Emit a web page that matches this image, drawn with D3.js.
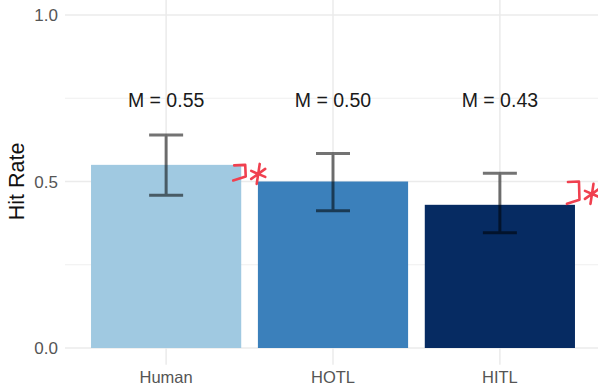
<!DOCTYPE html>
<html>
<head>
<meta charset="utf-8">
<script src="https://cdn.jsdelivr.net/npm/d3@7"></script>
<style>
  html, body { margin: 0; padding: 0; background: #fff; }
  svg { display: block; font-family: "Liberation Sans", Arial, sans-serif; }
</style>
</head>
<body>
<svg id="chart" width="598" height="388"></svg>
<script>
// Mean hit rate per condition with error bar bounds
const conditions = ["Human", "HOTL", "HITL"];
const hitRate = [0.55, 0.50, 0.43];
const errLow = [0.459, 0.412, 0.346];
const errHigh = [0.640, 0.584, 0.525];
const barColors = ["#a0c9e1", "#3b80bb", "#062b62"];
const yTicks = [0, 0.5, 1.0];
const yMinorTicks = [0.25, 0.75];
// Hand-marked differences: bracket beside a bar, spanning two levels
const marks = [
  { cond: "Human", top: 0.55, bottom: 0.50 },
  { cond: "HITL", top: 0.50, bottom: 0.43 }
];

const W = 598, H = 388;
const svg = d3.select("#chart");

const y = d3.scaleLinear().domain([0, 1]).range([348, 15]);
const x = d3.scaleBand().domain(conditions).range([66, 600])
  .paddingInner(0.1).paddingOuter(0.15);

const panelTop = y(1.05), panelBottom = y(-0.05), panelLeft = 65;

// grid
const grid = svg.append("g");
grid.selectAll("line.minor").data(yMinorTicks).join("line")
  .attr("x1", panelLeft).attr("x2", W)
  .attr("y1", d => y(d)).attr("y2", d => y(d))
  .attr("stroke", "#efefef").attr("stroke-width", 1.2);
grid.selectAll("line.major").data(yTicks).join("line")
  .attr("x1", panelLeft).attr("x2", W)
  .attr("y1", d => y(d)).attr("y2", d => y(d))
  .attr("stroke", "#ebebeb").attr("stroke-width", 1.5);
grid.selectAll("line.vert").data(conditions).join("line")
  .attr("x1", d => x(d) + x.bandwidth() / 2).attr("x2", d => x(d) + x.bandwidth() / 2)
  .attr("y1", panelTop).attr("y2", panelBottom)
  .attr("stroke", "#ebebeb").attr("stroke-width", 1.5);

// bars
svg.append("g").selectAll("rect").data(conditions).join("rect")
  .attr("x", d => x(d))
  .attr("width", x.bandwidth())
  .attr("y", (d, i) => y(hitRate[i]))
  .attr("height", (d, i) => y(0) - y(hitRate[i]))
  .attr("fill", (d, i) => barColors[i]);

// error bars
const capHalf = 17;
const eb = svg.append("g").attr("stroke", "rgba(0,0,0,0.55)").attr("stroke-width", 3).attr("fill", "none");
conditions.forEach((c, i) => {
  const cx = x(c) + x.bandwidth() / 2;
  eb.append("path").attr("d",
    `M${cx - capHalf},${y(errHigh[i])}H${cx + capHalf}` +
    `M${cx},${y(errHigh[i])}V${y(errLow[i])}` +
    `M${cx - capHalf},${y(errLow[i])}H${cx + capHalf}`);
});

// mean labels
svg.append("g").selectAll("text").data(conditions).join("text")
  .attr("x", d => x(d) + x.bandwidth() / 2)
  .attr("y", 107)
  .attr("text-anchor", "middle")
  .attr("font-size", 19.5)
  .attr("fill", "#1a1a1a")
  .text((d, i) => "M = " + hitRate[i].toFixed(2));

// y axis labels
svg.append("g").selectAll("text").data(yTicks).join("text")
  .attr("x", 58)
  .attr("y", d => y(d))
  .attr("dy", "0.36em")
  .attr("text-anchor", "end")
  .attr("font-size", 17)
  .attr("fill", "#555")
  .text(d => d3.format(".1f")(d));

// x axis labels
svg.append("g").selectAll("text").data(conditions).join("text")
  .attr("x", d => x(d) + x.bandwidth() / 2)
  .attr("y", 383)
  .attr("text-anchor", "middle")
  .attr("font-size", 16.5)
  .attr("fill", "#555")
  .text(d => d);

// y title
svg.append("text")
  .attr("transform", `translate(24,${y(0.5)}) rotate(-90)`)
  .attr("text-anchor", "middle")
  .attr("font-size", 21.5)
  .attr("fill", "#111")
  .text("Hit Rate");

// red bracket + asterisk marks
const red = "#f0404f";
const mk = svg.append("g").attr("stroke", red).attr("stroke-width", 2.6)
  .attr("fill", "none").attr("stroke-linecap", "round").attr("stroke-linejoin", "round");
marks.forEach(m => {
  const right = x(m.cond) + x.bandwidth();
  const y1 = y(m.top) + 0.5, y2 = y(m.bottom) - 1;
  const xl = right - 7, xr = right + 4;
  mk.append("path").attr("d",
    `M${xl},${y1}L${xr},${y1 - 0.5}L${xr + 0.5},${y2 - 4}L${xl - 1},${y2}`);
  const ax = right + 17, ay = (y1 + y2) / 2 + 1, r = 7;
  mk.append("path").attr("d",
    `M${ax + 1.5},${ay - r - 3}L${ax - 1.5},${ay + r + 3}` +
    `M${ax - r},${ay - 3}L${ax + r},${ay + 3}` +
    `M${ax + r},${ay - 5}L${ax - r},${ay + 5}`);
});
</script>
</body>
</html>
